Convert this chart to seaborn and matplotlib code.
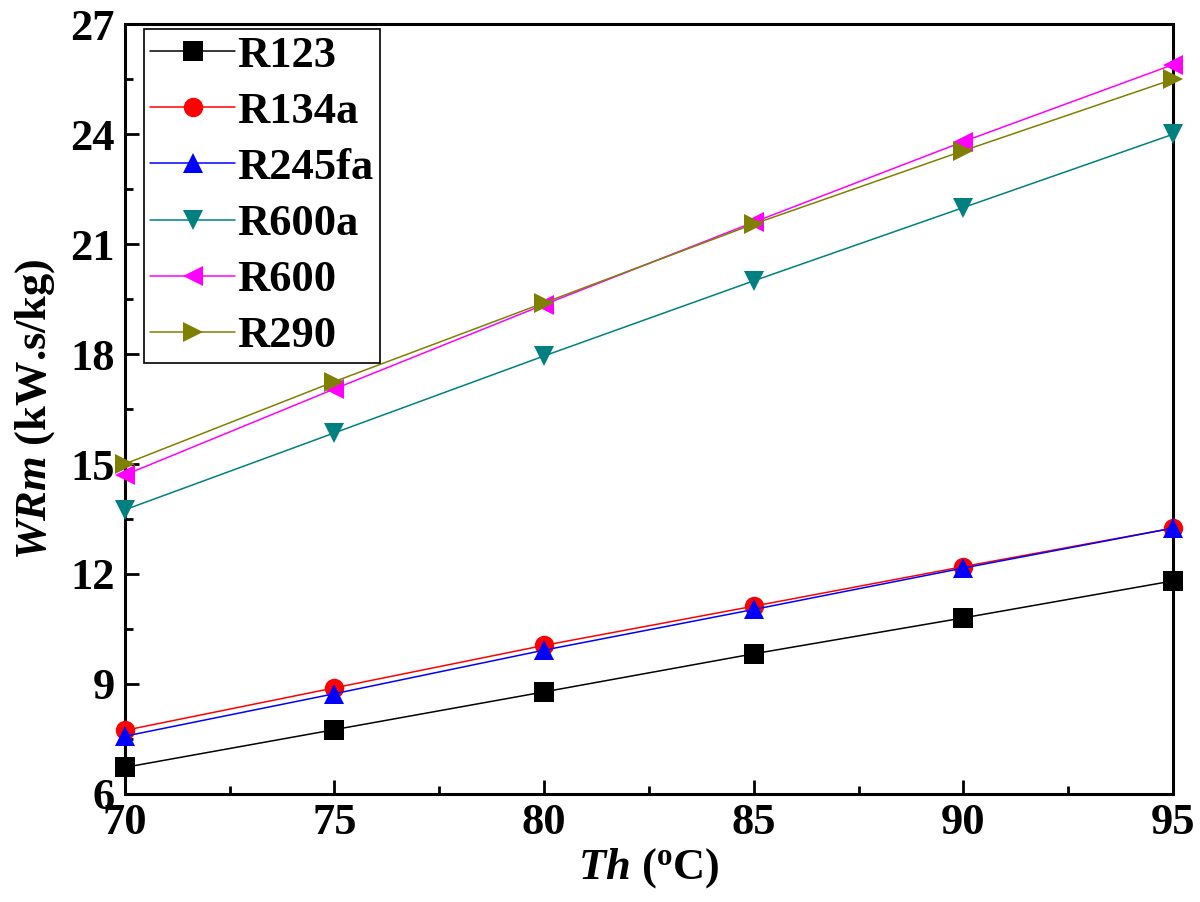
import matplotlib
matplotlib.use("Agg")
import matplotlib.pyplot as plt
import seaborn as sns
import pandas as pd
from matplotlib.ticker import MultipleLocator

th = [70, 75, 80, 85, 90, 95]
r123 = [6.72, 7.75, 8.78, 9.82, 10.8, 11.81]
r134a = [7.73, 8.89, 10.05, 11.12, 12.2, 13.25]
r245fa = [7.57, 8.73, 9.92, 11.03, 12.16, 13.25]
r600a = [13.75, 15.85, 17.95, 20.0, 22.0, 24.0]
r600 = [14.7, 17.05, 19.35, 21.6, 23.8, 25.9]
r290 = [15.0, 17.25, 19.4, 21.55, 23.55, 25.5]

names = ["R123", "R134a", "R245fa", "R600a", "R600", "R290"]
series = [r123, r134a, r245fa, r600a, r600, r290]
colors = ["#000000", "#FF0000", "#0000FF", "#008080", "#FF00FF", "#808000"]
markers = ["s", "o", "^", "v", "<", ">"]

sns.set_theme(style="ticks")
plt.rcParams["font.family"] = ["Liberation Serif", "DejaVu Serif"]
plt.rcParams["font.weight"] = "bold"
plt.rcParams["mathtext.fontset"] = "custom"
plt.rcParams["mathtext.it"] = "Liberation Serif:italic:bold"
plt.rcParams["mathtext.rm"] = "Liberation Serif:bold"
plt.rcParams["mathtext.bf"] = "Liberation Serif:bold"
for k in ["text.color", "axes.labelcolor", "xtick.color", "ytick.color",
          "axes.edgecolor"]:
    plt.rcParams[k] = "black"

FS = 32

fig, ax = plt.subplots(figsize=(12, 9.02), dpi=100)
fig.subplots_adjust(left=0.104, right=0.9775, top=0.973, bottom=0.12)

for n, vals, c, m in zip(names, series, colors, markers):
    df = pd.DataFrame({"Th": th, "WRm": vals})
    sns.lineplot(data=df, x="Th", y="WRm", ax=ax, color=c, marker=m,
                 markersize=14, markeredgewidth=0, linewidth=1.1, label=n,
                 clip_on=False, zorder=3)

ax.set_xlim(70, 95)
ax.set_ylim(6, 27)
ax.xaxis.set_major_locator(MultipleLocator(5))
ax.xaxis.set_minor_locator(MultipleLocator(2.5))
ax.yaxis.set_major_locator(MultipleLocator(3))
ax.yaxis.set_minor_locator(MultipleLocator(1.5))
ax.tick_params(which="major", direction="in", length=10, width=2,
               labelsize=FS, pad=7, colors="black")
ax.tick_params(which="minor", direction="in", length=6, width=2, colors="black")
ax.tick_params(top=False, right=False, which="both")
for lab in ax.get_xticklabels() + ax.get_yticklabels():
    lab.set_fontweight("bold")
for s in ax.spines.values():
    s.set_linewidth(2.2)
    s.set_color("black")

ax.set_xlabel(r"$Th$ ($^{\mathrm{o}}$C)", fontsize=FS, fontweight="bold",
              labelpad=2, color="black")
ax.set_ylabel(r"$WRm$ (kW.s/kg)", fontsize=FS, fontweight="bold",
              labelpad=10, color="black")

leg = ax.legend(loc="upper left", bbox_to_anchor=(0.018, 0.994), fontsize=FS,
                frameon=True, fancybox=False, framealpha=1,
                edgecolor="black", borderpad=0.15, labelspacing=0.36,
                handlelength=1.9, handletextpad=0.05, borderaxespad=0.0)
leg.get_frame().set_linewidth(1.2)
for t in leg.get_texts():
    t.set_fontweight("bold")
    t.set_color("black")

fig.savefig("out.png", dpi=100)
